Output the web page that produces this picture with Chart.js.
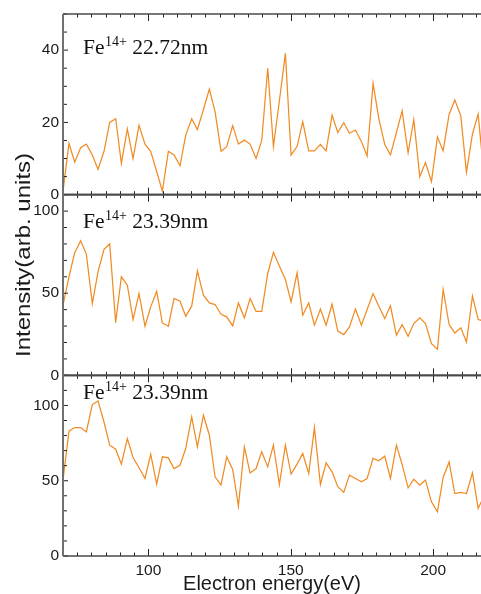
<!DOCTYPE html>
<html>
<head>
<meta charset="utf-8">
<script src="https://cdn.jsdelivr.net/npm/chart.js@4.4.0/dist/chart.umd.min.js"></script>
<style>
html,body{margin:0;padding:0;background:#fff;overflow:hidden}
#wrap{width:481px;height:594px;position:relative}
</style>
</head>
<body>
<div id="wrap"><canvas id="c" width="481" height="594"></canvas></div>
<script>
// ---- data ----
const energies = [
  70.0, 72.1, 74.1, 76.2, 78.2, 80.3, 82.3, 84.4, 86.4, 88.5,
  90.5, 92.6, 94.6, 96.7, 98.8, 100.8, 102.9, 104.9, 107.0, 109.0,
  111.1, 113.1, 115.2, 117.2, 119.3, 121.4, 123.4, 125.5, 127.5, 129.6,
  131.6, 133.7, 135.7, 137.8, 139.8, 141.9, 143.9, 146.0, 148.1, 150.1,
  152.2, 154.2, 156.3, 158.3, 160.4, 162.4, 164.5, 166.5, 168.6, 170.6,
  172.7, 174.8, 176.8, 178.9, 180.9, 183.0, 185.0, 187.1, 189.1, 191.2,
  193.2, 195.3, 197.3, 199.4, 201.5, 203.5, 205.6, 207.6, 209.7, 211.7,
  213.8, 215.8, 217.9
];
const fe2272 = [
  1, 14.2, 9, 13, 14, 11, 7, 12, 20, 21,
  8.7, 18.2, 10, 19.2, 14, 12, 6.4, 1, 12, 11,
  8, 16.5, 21, 18, 23.5, 29.2, 23, 12, 13.3, 19.1,
  14, 15.1, 14, 10, 15, 35, 13.3, 26, 39.1, 11,
  13.3, 20.2, 12.1, 12.1, 13.9, 12.1, 22, 17.2, 19.9, 17,
  17.9, 14.7, 10.7, 30.8, 21.1, 13.9, 11, 17.2, 23.2, 11.6,
  20.8, 5, 8.9, 3.6, 16, 12.1, 22.2, 26.2, 21.8, 6.2,
  16.8, 22.3, 5
];
const fe2339a = [
  42.7, 60, 74.6, 82, 73.8, 43.7, 63, 76.7, 80, 32.1,
  60, 54.9, 34, 49.8, 29.9, 41.7, 51.2, 31.9, 29.9, 46.8,
  45.1, 36, 42.1, 63.6, 48.8, 44.1, 43.1, 37.2, 35.6, 30.1,
  44.1, 35, 46.8, 39, 39, 62, 74.9, 66.5, 58.4, 44.7,
  62.4, 36.6, 44.1, 30.5, 40.3, 30.5, 43.3, 27, 24.8, 29.5,
  40.3, 30.5, 40.1, 49.8, 42.1, 34.6, 42.3, 24.4, 30.9, 23.8,
  31.5, 35, 31.5, 19.3, 15.9, 52.3, 30.9, 25.8, 28.9, 20.3,
  48.2, 34, 33
];
const fe2339b = [
  50.4, 82.9, 85.3, 85.3, 82.4, 100.6, 103, 89, 73.6, 70.9,
  61, 78, 65.4, 58.6, 51.5, 67.6, 47.7, 65.9, 65.2, 58.1,
  60.3, 71.4, 92.4, 72.5, 93.5, 80.2, 52.6, 47.1, 65.9, 57.5,
  33.1, 72.5, 55.2, 58.1, 69.2, 59.2, 73.6, 47.5, 73.6, 54.4,
  61, 68.1, 54.8, 85.3, 47.5, 61.9, 55.9, 46, 42.2, 53.7,
  51.5, 49.3, 51.5, 64.8, 63.2, 66.3, 51.5, 73.6, 60.8, 45.3,
  51, 47.1, 50.4, 36, 29.4, 52.2, 62.5, 41.5, 42.2, 41.5,
  55.2, 31.6, 40
];
const panelIons = ['Fe', 'Fe', 'Fe'];
const panelCharges = ['14+', '14+', '14+'];
const panelLines = ['22.72nm', '23.39nm', '23.39nm'];
const xTickValues = [100, 150, 200];
const y1TickValues = [0, 20, 40];
const y2TickValues = [0, 50, 100];
const y3TickValues = [0, 50, 100];
const xTitle = 'Electron energy(eV)';
const yTitle = 'Intensity(arb. units)';

// ---- styling ----
const SANS = '"Liberation Sans", Arial, sans-serif';
const SERIF = '"Liberation Serif", "Times New Roman", serif';
const lineColor = 'rgb(240,140,36)';
const textColor = '#1a1a1a';
const tickFont = { family: SANS, size: 15.5 };

function yScale(min, max, tickVals, weight) {
  return {
    type: 'linear', position: 'left', stack: 'panels', stackWeight: 1, weight: weight,
    min: min, max: max,
    afterBuildTicks: s => { s.ticks = tickVals.map(v => ({ value: v })); },
    afterFit: s => { s.width = 63; },
    ticks: { font: tickFont, color: textColor, padding: 4, autoSkip: false, callback: v => String(v) },
    grid: { display: false, drawTicks: false },
    border: { display: false }
  };
}

const panelIds = ['y1', 'y2', 'y3'];
const minorSteps = { y1: 5, y2: 10, y3: 10 };
const labelOffsets = [40, 33, 23.3];

const framePlugin = {
  id: 'frame',
  afterDatasetsDraw(chart) {
    const ctx = chart.ctx;
    const xs = chart.scales.x;
    const L = chart.chartArea.left, R = chart.chartArea.right + 2;
    ctx.save();
    const seg = (x1, y1, x2, y2) => { ctx.beginPath(); ctx.moveTo(x1, y1); ctx.lineTo(x2, y2); ctx.stroke(); };
    // x ticks (inward, top and bottom of each panel)
    ctx.strokeStyle = '#222'; ctx.lineWidth = 1;
    for (let v = 70; v <= xs.max; v += 5) {
      const px = Math.round(xs.getPixelForValue(v)) + 0.5;
      const len = (v % 50 === 0) ? 7 : 3.5;
      panelIds.forEach(id => {
        const s = chart.scales[id];
        seg(px, s.top, px, s.top + len);
        seg(px, s.bottom, px, s.bottom - len);
      });
    }
    // y ticks (inward)
    panelIds.forEach(id => {
      const s = chart.scales[id];
      for (let v = s.min; v <= s.max; v += minorSteps[id]) {
        const py = s.getPixelForValue(v);
        const major = s.ticks.some(t => t.value === v);
        seg(L, py, L + (major ? 5 : 4), py);
      }
    });
    // frame lines
    ctx.strokeStyle = '#4a4a4a'; ctx.lineWidth = 1.6;
    panelIds.forEach(id => {
      const s = chart.scales[id];
      seg(L, s.top, R, s.top);
      seg(L, s.bottom, R, s.bottom);
    });
    ctx.strokeStyle = '#707070'; ctx.lineWidth = 2;
    seg(L, chart.chartArea.top, L, chart.chartArea.bottom);

    // panel labels
    ctx.fillStyle = '#111';
    ctx.textBaseline = 'alphabetic';
    ctx.textAlign = 'left';
    panelIds.forEach((id, i) => {
      const s = chart.scales[id];
      const by = s.top + labelOffsets[i];
      let x = 83;
      ctx.font = '21.5px ' + SERIF;
      ctx.fillText(panelIons[i], x, by);
      x += ctx.measureText(panelIons[i]).width + 0.5;
      ctx.font = '14px ' + SERIF;
      ctx.fillText(panelCharges[i], x, by - 7.7);
      x += ctx.measureText(panelCharges[i]).width;
      ctx.font = '21.5px ' + SERIF;
      x += ctx.measureText(' ').width;
      ctx.fillText(panelLines[i], x, by);
    });

    // y axis title
    ctx.fillStyle = textColor;
    ctx.translate(30, 255);
    ctx.rotate(-Math.PI / 2);
    ctx.scale(1.2, 1);
    ctx.font = '20px ' + SANS;
    ctx.textAlign = 'center';
    ctx.fillText(yTitle, 0, 0);
    ctx.restore();
  }
};

const seriesList = [fe2272, fe2339a, fe2339b];

new Chart(document.getElementById('c'), {
  type: 'line',
  data: {
    datasets: seriesList.map((arr, i) => ({
      data: energies.map((e, j) => ({ x: e, y: arr[j] })),
      yAxisID: panelIds[i],
      borderColor: lineColor,
      borderWidth: 1.25,
      pointRadius: 0,
      tension: 0,
      fill: false
    }))
  },
  options: {
    responsive: false,
    devicePixelRatio: 1,
    animation: false,
    layout: { padding: { top: 14, left: 0, right: 0, bottom: 0 } },
    plugins: { legend: { display: false }, tooltip: { enabled: false } },
    scales: {
      x: {
        type: 'linear', position: 'bottom', min: 70, max: 216.8,
        afterBuildTicks: s => { s.ticks = xTickValues.map(v => ({ value: v })); },
        afterFit: s => { s.height = 38; },
        ticks: { font: tickFont, color: textColor, padding: 5, autoSkip: false, maxRotation: 0, callback: v => String(v) },
        grid: { display: false, drawTicks: false },
        border: { display: false },
        title: { display: true, text: xTitle, color: textColor, font: { family: SANS, size: 20, lineHeight: 1 }, padding: { top: 0, bottom: 0 } }
      },
      y3: yScale(0, 120, y3TickValues, 1),
      y2: yScale(0, 110, y2TickValues, 2),
      y1: yScale(0, 50, y1TickValues, 3)
    }
  },
  plugins: [framePlugin]
});
</script>
</body>
</html>
